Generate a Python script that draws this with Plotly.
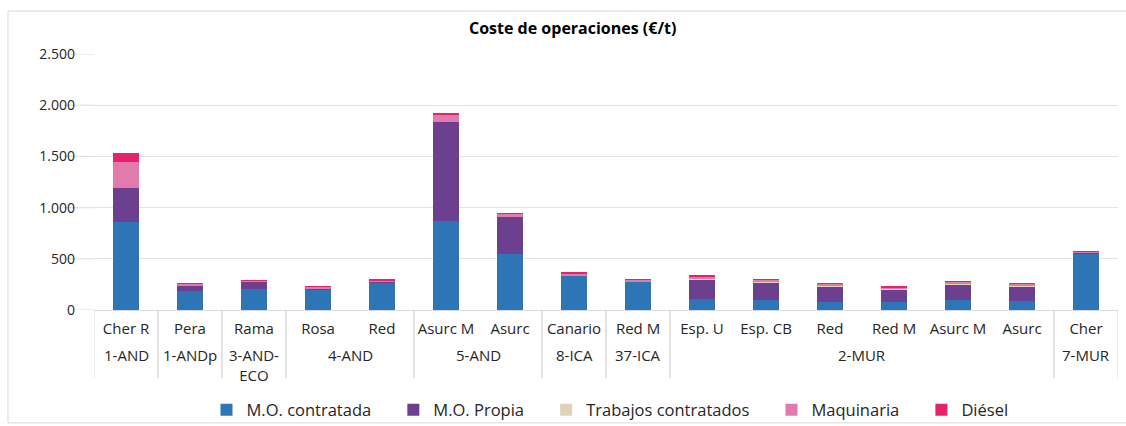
import plotly.graph_objects as go

categories = ["Cher R", "Pera", "Rama", "Rosa", "Red", "Asurc M", "Asurc", "Canario",
              "Red M", "Esp. U", "Esp. CB", "Red", "Red M", "Asurc M", "Asurc", "Cher"]
groups = ["1-AND", "1-ANDp", "3-AND-<br>ECO", "4-AND", "4-AND", "5-AND", "5-AND", "8-ICA",
          "37-ICA", "2-MUR", "2-MUR", "2-MUR", "2-MUR", "2-MUR", "2-MUR", "7-MUR"]

mo_contratada = [860, 185, 205, 200, 272, 872, 550, 335, 276, 107, 95, 81, 75, 95, 85, 554]
mo_propia = [330, 48, 75, 13, 10, 967, 360, 5, 3, 190, 172, 148, 125, 153, 143, 5]
trabajos_contratados = [0, 0, 0, 0, 0, 0, 0, 0, 0, 5, 5, 4, 4, 5, 4, 0]
maquinaria = [255, 22, 8, 12, 10, 68, 28, 18, 14, 28, 25, 25, 20, 24, 25, 12]
diesel = [85, 3, 2, 4, 3, 12, 6, 13, 4, 3, 3, 3, 3, 3, 3, 5]

series_names = ["M.O. contratada", "M.O. Propia", "Trabajos contratados", "Maquinaria", "Diésel"]
series_values = [mo_contratada, mo_propia, trabajos_contratados, maquinaria, diesel]
series_colors = ["#2E75B6", "#6C3F8F", "#DDD4B8", "#E07BAB", "#E8226A"]

y_ticks = [0, 500, 1000, 1500, 2000, 2500]

FONT = "'Open Sans', sans-serif"
TXT = "#262626"
LINE = "#D9D9D9"
GRID = "#E3E3E3"

# unique category keys (duplicate names get invisible zero-width suffixes)
keys = []
seen = {}
for c in categories:
    n = seen.get(c, 0)
    keys.append(c + "\u200b" * n)
    seen[c] = n + 1

fig = go.Figure()
last = len(series_names) - 1
for i, (name, vals, col) in enumerate(zip(series_names, series_values, series_colors)):
    label = name + ("" if i == last else "\u00a0" * 4)
    fig.add_trace(go.Bar(x=keys, y=vals, name=label,
                         marker=dict(color=col, line=dict(width=0))))

# group spans (contiguous runs)
spans = []
start = 0
for i in range(1, len(groups) + 1):
    if i == len(groups) or groups[i] != groups[start]:
        spans.append((groups[start], start, i - 1))
        start = i

for label, a, b in spans:
    fig.add_annotation(x=(a + b) / 2, xref="x", y=-0.13, yref="paper", yanchor="top",
                       text=label, showarrow=False,
                       font=dict(family=FONT, size=15, color=TXT))
    for edge in (a - 0.5, b + 0.5):
        fig.add_shape(type="line", xref="x", yref="paper", x0=edge, x1=edge, y0=0, y1=-0.266,
                      line=dict(color=LINE, width=1))

# gridlines extended to the left of the plot area (Excel style)
for t in y_ticks:
    fig.add_shape(type="line", xref="paper", yref="y", x0=-0.0293, x1=0, y0=t, y1=t,
                  line=dict(color=GRID, width=1.3), layer="below")

# outer chart frame
fig.add_shape(type="rect", xref="paper", yref="paper", x0=-0.084, x1=1.05, y0=-0.441, y1=1.168,
              line=dict(color=LINE, width=1), layer="below")

fig.add_annotation(text="<b>Coste de operaciones (€/t)</b>", xref="paper", yref="paper",
                   x=(572 - 94) / 1024, y=1.10, xanchor="center", yanchor="middle",
                   showarrow=False, font=dict(family=FONT, size=16, color="#000000"))

fig.update_layout(
    width=1126, height=426,
    margin=dict(l=94, r=8, t=54, b=116),
    barmode="stack", bargap=0.59,
    paper_bgcolor="white", plot_bgcolor="white",
    separators=",.",
    font=dict(family=FONT, size=14, color=TXT),
    showlegend=True,
    legend=dict(orientation="h", x=(610 - 94) / 1024, xanchor="center",
                yref="container", y=1 - 410 / 426, yanchor="middle",
                font=dict(family=FONT, size=16.5, color=TXT),
                traceorder="normal", itemwidth=30, bgcolor="rgba(0,0,0,0)"),
    xaxis=dict(type="category", categoryorder="array", categoryarray=keys,
               range=[-0.5, len(keys) - 0.5], automargin=False,
               showline=True, linecolor=LINE, linewidth=1, ticks="",
               ticklabelstandoff=5, showgrid=False,
               tickfont=dict(family=FONT, size=15, color=TXT)),
    yaxis=dict(range=[0, 2500], tickvals=y_ticks, tickformat=",d", automargin=False,
               showgrid=True, gridcolor=GRID, gridwidth=1.3, zeroline=False,
               ticklabelstandoff=18,
               tickfont=dict(family=FONT, size=14, color=TXT)),
)

fig.write_html("out.html", config={"displayModeBar": False},
               post_script="document.body.style.margin='0';")
